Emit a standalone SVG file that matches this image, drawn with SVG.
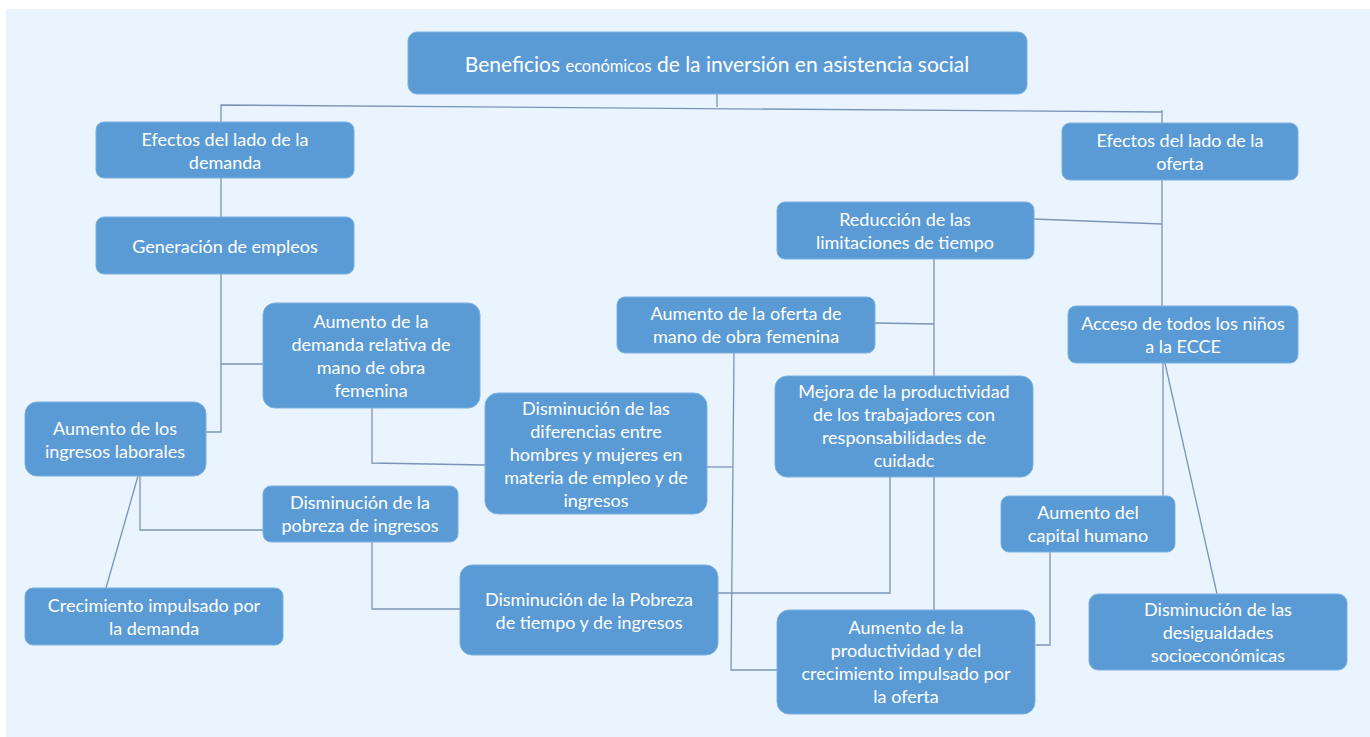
<svg xmlns="http://www.w3.org/2000/svg" width="1370" height="737" viewBox="0 0 1370 737">
<style>
.n rect{fill:#5B9BD5;stroke:#7DB0E0;stroke-width:1}
.n text{fill:#fff;font-family:Lato,"Open Sans","Liberation Sans",sans-serif;font-size:18px;text-anchor:middle;dominant-baseline:central}
.c path{fill:none;stroke:#7C93B9;stroke-width:1.3}
</style>
<rect x="0" y="0" width="1370" height="737" fill="#fff"/>
<rect x="6" y="9" width="1364" height="728" fill="#EAF4FE"/>
<g class="c" id="connectors">
<path d="M717 94V107"/>
<path d="M221 122V105L1162 112"/>
<path d="M1162 110V123"/>
<path d="M221 178V217"/>
<path d="M221 274V432H206"/>
<path d="M221 364H263"/>
<path d="M372 408V463L485 465"/>
<path d="M707 467H732"/>
<path d="M734 353L731 670H777"/>
<path d="M140 476V530H263"/>
<path d="M138 476L106 588"/>
<path d="M372 542V609H460"/>
<path d="M718 593H890V477"/>
<path d="M934 259V376"/>
<path d="M934 477V610"/>
<path d="M875 323L934 324"/>
<path d="M1034 219L1162 224"/>
<path d="M1162 180V306"/>
<path d="M1163 363V496"/>
<path d="M1165 363L1217 594"/>
<path d="M1050 552V645H1036"/>
</g>
<g class="n" id="n_title"><rect x="408" y="32" width="619" height="62" rx="9"/>
<text x="717" y="72" style="font-size:21px;dominant-baseline:alphabetic">Beneficios <tspan style="font-size:16.5px">económicos</tspan> de la inversión en asistencia social</text></g>
<g class="n" id="n_demanda"><rect x="96" y="122" width="258" height="56" rx="8"/>
<text x="225" y="139">Efectos del lado de la</text><text x="225" y="162">demanda</text></g>
<g class="n" id="n_empleos"><rect x="96" y="217" width="258" height="57" rx="8"/>
<text x="225" y="246">Generación de empleos</text></g>
<g class="n" id="n_relativa"><rect x="263" y="303" width="217" height="105" rx="12"/>
<text x="371" y="321">Aumento de la</text><text x="371" y="344">demanda relativa de</text><text x="371" y="367">mano de obra</text><text x="371" y="390">femenina</text></g>
<g class="n" id="n_ingresos"><rect x="25" y="402" width="181" height="74" rx="12"/>
<text x="115" y="428">Aumento de los</text><text x="115" y="451">ingresos laborales</text></g>
<g class="n" id="n_pobreza"><rect x="263" y="486" width="195" height="56" rx="8"/>
<text x="360" y="502">Disminución de la</text><text x="360" y="525">pobreza de ingresos</text></g>
<g class="n" id="n_crec_demanda"><rect x="25" y="588" width="258" height="57" rx="8"/>
<text x="154" y="605">Crecimiento impulsado por</text><text x="154" y="628">la demanda</text></g>
<g class="n" id="n_diferencias"><rect x="485" y="393" width="222" height="121" rx="13"/>
<text x="596" y="408">Disminución de las</text><text x="596" y="431">diferencias entre</text><text x="596" y="454">hombres y mujeres en</text><text x="596" y="477">materia de empleo y de</text><text x="596" y="500">ingresos</text></g>
<g class="n" id="n_pobreza_tiempo"><rect x="460" y="565" width="258" height="90" rx="12"/>
<text x="589" y="599">Disminución de la Pobreza</text><text x="589" y="622">de tiempo y de ingresos</text></g>
<g class="n" id="n_reduccion"><rect x="777" y="202" width="257" height="57" rx="8"/>
<text x="905" y="219">Reducción de las</text><text x="905" y="242">limitaciones de tiempo</text></g>
<g class="n" id="n_oferta"><rect x="1062" y="123" width="236" height="57" rx="8"/>
<text x="1180" y="140">Efectos del lado de la</text><text x="1180" y="163">oferta</text></g>
<g class="n" id="n_oferta_fem"><rect x="617" y="297" width="258" height="56" rx="8"/>
<text x="746" y="313">Aumento de la oferta de</text><text x="746" y="336">mano de obra femenina</text></g>
<g class="n" id="n_ecce"><rect x="1068" y="306" width="230" height="57" rx="8"/>
<text x="1183" y="323">Acceso de todos los niños</text><text x="1183" y="346">a la ECCE</text></g>
<g class="n" id="n_mejora"><rect x="775" y="376" width="258" height="101" rx="12"/>
<text x="904" y="391">Mejora de la productividad</text><text x="904" y="414">de los trabajadores con</text><text x="904" y="437">responsabilidades de</text><text x="904" y="460">cuidadc</text></g>
<g class="n" id="n_capital"><rect x="1001" y="496" width="174" height="56" rx="8"/>
<text x="1088" y="512">Aumento del</text><text x="1088" y="535">capital humano</text></g>
<g class="n" id="n_desigualdades"><rect x="1089" y="594" width="258" height="76" rx="9"/>
<text x="1218" y="609">Disminución de las</text><text x="1218" y="632">desigualdades</text><text x="1218" y="655">socioeconómicas</text></g>
<g class="n" id="n_crec_oferta"><rect x="777" y="610" width="258" height="104" rx="12"/>
<text x="906" y="627">Aumento de la</text><text x="906" y="650">productividad y del</text><text x="906" y="673">crecimiento impulsado por</text><text x="906" y="696">la oferta</text></g>
</svg>
